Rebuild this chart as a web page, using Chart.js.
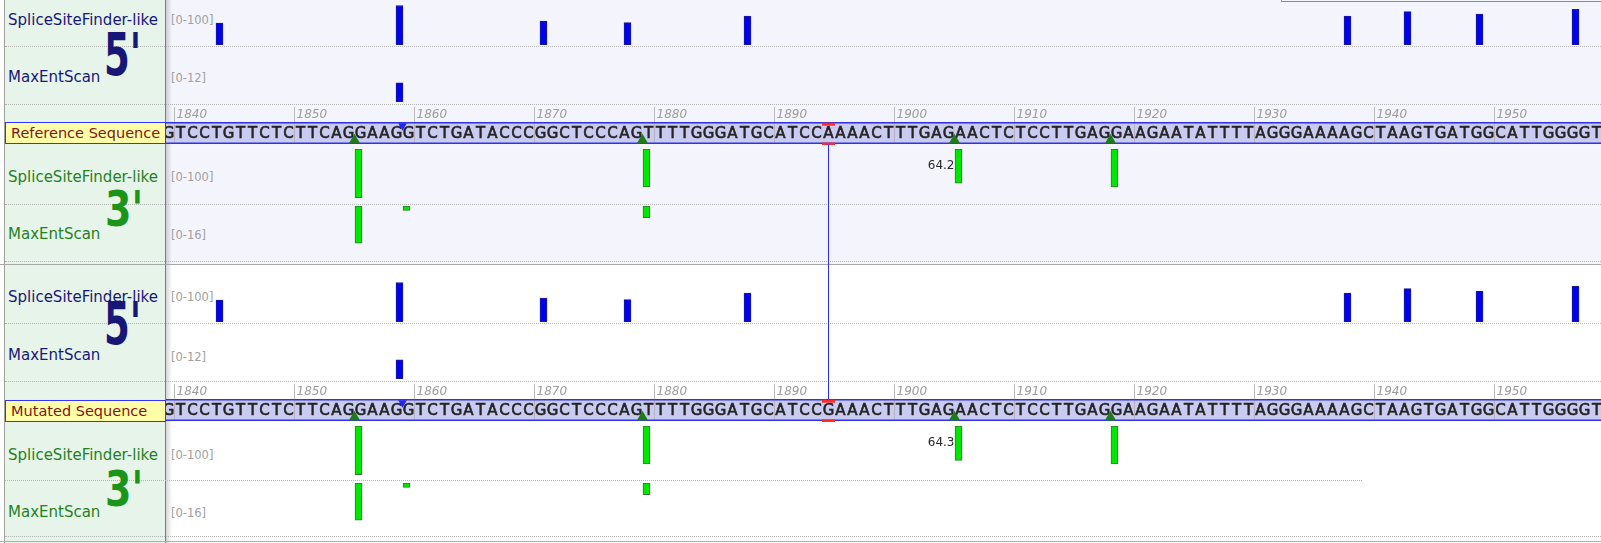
<!DOCTYPE html>
<html>
<head>
<meta charset="utf-8">
<title>Splice site prediction</title>
<script src="https://cdn.jsdelivr.net/npm/chart.js"></script>
<style>
body { margin: 0; width: 1601px; height: 543px; overflow: hidden; background: #fff; font-family: "DejaVu Sans", sans-serif; }
#stage { position: absolute; left: 0; top: 0; width: 1601px; height: 543px; overflow: hidden; }
.box { position: absolute; }
.dots { position: absolute; left: 5px; width: 1596px; height: 0; border-top: 1px dotted #b4b4b4; }
.lbl { position: absolute; left: 8px; height: 20px; line-height: 20px; font-size: 15px; white-space: nowrap; }
.rng { position: absolute; left: 171px; height: 16px; line-height: 16px; font-size: 11.5px; color: #a0a0a0; white-space: nowrap; }
.big { position: absolute; font-weight: bold; line-height: 1; transform-origin: 0 0; white-space: nowrap; }
.seqname { position: absolute; left: 5px; width: 161px; height: 22px; box-sizing: border-box; padding-left: 5px; line-height: 20px;
  background: #ffffa8; border: 1px solid #3434ff; color: #821414; font-size: 14.5px; white-space: nowrap; }
.five { color: #18187c; }
.three { color: #1f8224; }
</style>
</head>
<body>
<div id="stage">
  <div class="box" style="left:166px;top:0;width:1435px;height:264px;background:#f4f4fc"></div>
  <div class="box" style="left:4px;top:0;width:160px;height:543px;background:#e7f4e9;border-left:1px solid #a0a0a0;border-right:1px solid #7c7c7c"></div>
  <div class="box" style="left:166px;top:0;width:6px;height:543px;background:linear-gradient(to right, rgba(0,0,0,0.16), rgba(0,0,0,0))"></div>
  <div class="box" style="left:0;top:264px;width:1601px;height:1px;background:#a8a8a8"></div>
  <div class="box" style="left:0;top:541px;width:1601px;height:1px;background:#b0b0b0"></div>
  <div class="box" style="left:1281px;top:-10px;width:320px;height:11px;border-left:1px solid #9a9a9a;border-bottom:1px solid #8c8c8c"></div>

  <div class="dots" style="top:46px"></div>
  <div class="dots" style="top:104px"></div>
  <div class="dots" style="top:204px"></div>
  <div class="dots" style="top:261px"></div>
  <div class="dots" style="top:323px"></div>
  <div class="dots" style="top:381px"></div>
  <div class="dots" style="top:480px;width:1357px"></div>
  <div class="dots" style="top:536px"></div>

  <div class="lbl five" style="top:10px">SpliceSiteFinder-like</div>
  <div class="big" style="top:26px;left:104px;font-size:58px;color:#171777;transform:scaleX(0.64)">5'</div>
  <div class="lbl five" style="top:67px">MaxEntScan</div>
  <div class="seqname" style="top:122px">Reference Sequence</div>
  <div class="lbl three" style="top:167px">SpliceSiteFinder-like</div>
  <div class="big" style="top:184px;left:105px;font-size:50px;color:#1a951a;transform:scaleX(0.76)">3'</div>
  <div class="lbl three" style="top:224px">MaxEntScan</div>

  <div class="lbl five" style="top:287px">SpliceSiteFinder-like</div>
  <div class="big" style="top:295px;left:104px;font-size:58px;color:#171777;transform:scaleX(0.64)">5'</div>
  <div class="lbl five" style="top:345px">MaxEntScan</div>
  <div class="seqname" style="top:400px">Mutated Sequence</div>
  <div class="lbl three" style="top:445px">SpliceSiteFinder-like</div>
  <div class="big" style="top:464px;left:105px;font-size:50px;color:#1a951a;transform:scaleX(0.76)">3'</div>
  <div class="lbl three" style="top:502px">MaxEntScan</div>

  <div class="rng" style="top:12px">[0-100]</div>
  <div class="rng" style="top:70px">[0-12]</div>
  <div class="rng" style="top:169px">[0-100]</div>
  <div class="rng" style="top:227px">[0-16]</div>
  <div class="rng" style="top:289px">[0-100]</div>
  <div class="rng" style="top:349px">[0-12]</div>
  <div class="rng" style="top:447px">[0-100]</div>
  <div class="rng" style="top:505px">[0-16]</div>
</div>
<script>
const seqStart = 1839;
const refBases = ['G', 'TCCTGTTCTC', 'TTCAGGAAGG', 'TCTGATACCC', 'GGCTCCCAGT', 'TTTGGGATGC',
  'ATCCAAAACT', 'TTGAGAACTC', 'TCCTTGAGGA', 'AGAATATTTT', 'AGGGAAAAGC', 'TAAGTGATGG', 'CATTGGGGT'].join('').split('');
const mutPos = 1894;
const mutBase = 'G';
const rulerTicks = [1840, 1850, 1860, 1870, 1880, 1890, 1900, 1910, 1920, 1930, 1940, 1950];

const donorSites = [1844, 1859, 1871, 1878, 1888, 1938, 1943, 1949, 1957];
const donorSSF = [41, 74, 45, 42, 54, 54, 62.5, 58, 67];
const donorMESsites = [1859];
const donorMES = [4.3];
const donorMarks = [1859];

const acceptorSites = [1855, 1879, 1905, 1918];
const refAcceptorSSF = [91, 71, 64.2, 71];
const mutAcceptorSSF = [91, 71, 64.3, 71];
const acceptorMESsites = [1855, 1859, 1879];
const acceptorMES = [11.1, 1.3, 3.5];
const acceptorMarks = [1855, 1879, 1905, 1918];
const changedSite = 1905;

const mutBases = refBases.slice();
mutBases[mutPos - seqStart] = mutBase;

const PLOT_X = 166, PLOT_W = 1435;
const XMIN = 1839.2917, XMAX = XMIN + PLOT_W / 12;
const FULL_PX = 53.4;
const BLUE = '#0000f5', BLUE_EDGE = '#1b1b8f';
const GREEN = '#00e800', GREEN_EDGE = '#2d7d2d';
const stage = document.getElementById('stage');

function addCanvas(top, h) {
    const cv = document.createElement('canvas');
    cv.width = PLOT_W;
    cv.height = h;
    cv.style.cssText = `position:absolute;left:${PLOT_X}px;top:${top}px;width:${PLOT_W}px;height:${h}px`;
    stage.appendChild(cv);
    return cv;
}

function xAxis() {
    return { type: 'linear', min: XMIN, max: XMAX, offset: false, display: false };
}

function baseOptions(yAxis, padding) {
    return {
        responsive: false,
        animation: false,
        devicePixelRatio: 1,
        events: [],
        layout: { autoPadding: false, padding: padding || 0 },
        plugins: { legend: { display: false }, tooltip: { enabled: false } },
        scales: { x: xAxis(), y: yAxis }
    };
}

function scoreLabel(index, text) {
    return {
        id: 'scoreLabel',
        afterDatasetsDraw(chart) {
            const bar = chart.getDatasetMeta(0).data[index];
            const { x, y, base, width } = bar.getProps(['x', 'y', 'base', 'width'], true);
            const ctx = chart.ctx;
            ctx.save();
            ctx.font = '12px "DejaVu Sans"';
            ctx.fillStyle = '#2a2a2a';
            ctx.textAlign = 'right';
            ctx.textBaseline = 'middle';
            ctx.fillText(text, x - width / 2 - 0.5, (y + base) / 2);
            ctx.restore();
        }
    };
}

function trackChart(t) {
    const cv = addCanvas(t.top, t.h);
    const plugins = [];
    if (t.label) {
        const i = t.sites.indexOf(t.label);
        plugins.push(scoreLabel(i, t.values[i].toFixed(1)));
    }
    return new Chart(cv, {
        type: 'bar',
        data: {
            datasets: [{
                data: t.sites.map((s, i) => ({ x: s + t.shift, y: t.values[i] })),
                backgroundColor: t.fill,
                borderColor: t.edge,
                borderWidth: 1,
                borderSkipped: false,
                barThickness: 7
            }]
        },
        options: baseOptions({ min: 0, max: t.range * t.h / FULL_PX, reverse: !!t.hang, display: false }),
        plugins: plugins
    });
}

function seqRow(bases) {
    return {
        id: 'seqRow',
        beforeDatasetsDraw(chart) {
            const { ctx, chartArea: a } = chart;
            const x = chart.scales.x;
            const w = a.right - a.left;
            ctx.save();
            ctx.fillStyle = '#c9cbf1';
            ctx.fillRect(a.left, a.top, w, a.bottom - a.top);
            ctx.font = 'italic 12px "DejaVu Sans"';
            ctx.textAlign = 'left';
            ctx.textBaseline = 'middle';
            rulerTicks.forEach(t => {
                const px = Math.floor(x.getPixelForValue(t));
                ctx.fillStyle = '#bababa';
                ctx.fillRect(px, 3, 1, a.top - 3);
                ctx.fillStyle = 'rgba(150,130,110,0.35)';
                ctx.fillRect(px, a.top, 1, a.bottom - a.top);
                ctx.fillStyle = '#9c9c9c';
                ctx.fillText(String(t), px + 2.5, 11);
            });
            ctx.font = '15px "DejaVu Sans"';
            ctx.textAlign = 'center';
            ctx.fillStyle = '#242424';
            ctx.strokeStyle = '#242424';
            ctx.lineWidth = 0.6;
            bases.forEach((b, i) => {
                const px = x.getPixelForValue(seqStart + i + 0.5);
                const py = (a.top + a.bottom) / 2 + 1;
                ctx.fillText(b, px, py);
                ctx.strokeText(b, px, py);
            });
            ctx.fillStyle = '#3030ee';
            ctx.fillRect(a.left, a.top, w, 1.5);
            ctx.fillRect(a.left, a.bottom - 1.5, w, 1.5);
            ctx.restore();
        }
    };
}

function seqChart(top, bases) {
    const cv = addCanvas(top, 41);
    return new Chart(cv, {
        type: 'scatter',
        data: {
            datasets: [
                { data: donorMarks.map(s => ({ x: s, y: 0.83 })), pointStyle: 'triangle', pointRotation: 180,
                  pointRadius: 5, pointBackgroundColor: '#2323ff', pointBorderWidth: 0, clip: false },
                { data: acceptorMarks.map(s => ({ x: s, y: 0.17 })), pointStyle: 'triangle',
                  pointRadius: 6.5, pointBackgroundColor: '#1d7a1d', pointBorderWidth: 0, clip: false },
                { data: [{ x: mutPos + 0.5, y: 0.9 }, { x: mutPos + 0.5, y: 0 }], pointStyle: 'line',
                  pointRadius: 6.5, pointBorderColor: '#ff2a2a', pointBorderWidth: 3, clip: false }
            ]
        },
        options: baseOptions({ min: 0, max: 1, display: false }, { top: 18, bottom: 1 }),
        plugins: [seqRow(bases)]
    });
}

function panel(y0, bases, acceptorSSF) {
    trackChart({ top: y0 - 12, h: 57, sites: donorSites, values: donorSSF, range: 100, shift: -0.25, fill: BLUE, edge: BLUE_EDGE });
    trackChart({ top: y0 + 48, h: 54, sites: donorMESsites, values: donorMES, range: 12, shift: -0.25, fill: BLUE, edge: BLUE_EDGE });
    seqChart(y0 + 104, bases);
    trackChart({ top: y0 + 149, h: 54, sites: acceptorSites, values: acceptorSSF, range: 100, shift: 4 / 12,
                 fill: GREEN, edge: GREEN_EDGE, hang: true, label: changedSite });
    trackChart({ top: y0 + 206, h: 53, sites: acceptorMESsites, values: acceptorMES, range: 16, shift: 4 / 12,
                 fill: GREEN, edge: GREEN_EDGE, hang: true });
}

panel(0, refBases, refAcceptorSSF);
panel(277, mutBases, mutAcceptorSSF);

new Chart(addCanvas(144, 256), {
    type: 'line',
    data: { datasets: [{ data: [{ x: mutPos + 0.5, y: 0 }, { x: mutPos + 0.5, y: 1 }],
                         borderColor: '#2b2bff', borderWidth: 1, pointRadius: 0 }] },
    options: baseOptions({ min: 0, max: 1, display: false })
});
</script>
</body>
</html>
